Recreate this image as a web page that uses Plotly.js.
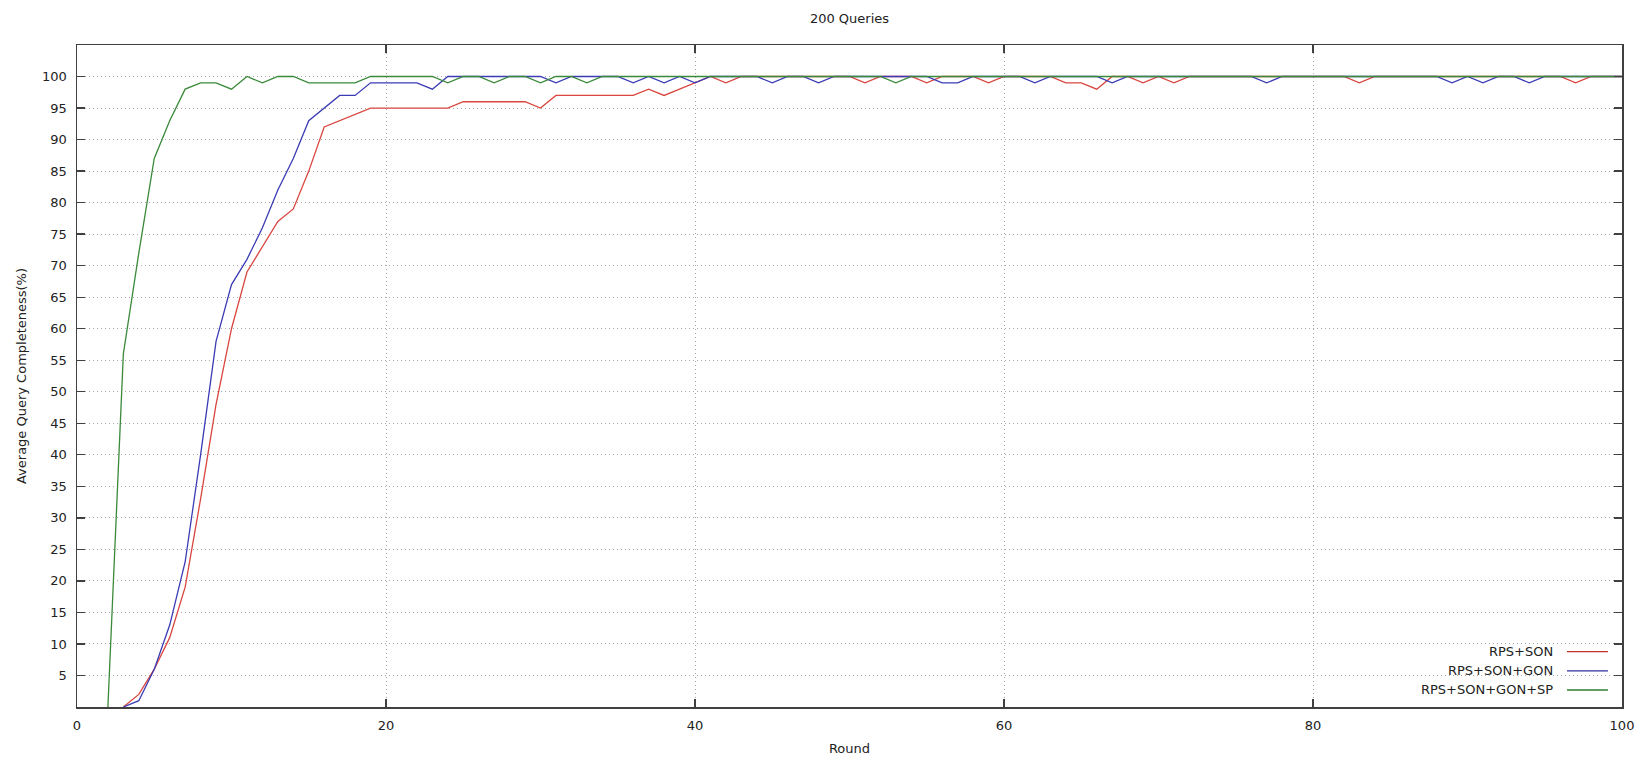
<!DOCTYPE html>
<html>
<head>
<meta charset="utf-8">
<script src="https://cdn.plot.ly/plotly-3.0.1.min.js"></script>
<style>
  html, body { margin: 0; padding: 0; background: #ffffff; }
  #chart { width: 1644px; height: 768px; }
</style>
</head>
<body>
<div id="chart"></div>
<script>
// ---- data ----
const chartTitle = "200 Queries";
const xTitle = "Round";
const yTitle = "Average Query Completeness(%)";

const rounds = [
  1, 2, 3, 4, 5, 6, 7, 8, 9, 10,
  11, 12, 13, 14, 15, 16, 17, 18, 19, 20,
  21, 22, 23, 24, 25, 26, 27, 28, 29, 30,
  31, 32, 33, 34, 35, 36, 37, 38, 39, 40,
  41, 42, 43, 44, 45, 46, 47, 48, 49, 50,
  51, 52, 53, 54, 55, 56, 57, 58, 59, 60,
  61, 62, 63, 64, 65, 66, 67, 68, 69, 70,
  71, 72, 73, 74, 75, 76, 77, 78, 79, 80,
  81, 82, 83, 84, 85, 86, 87, 88, 89, 90,
  91, 92, 93, 94, 95, 96, 97, 98, 99, 100
];

const rpsSon = [
  null, null, 0, 2, 6, 11, 19, 33, 48, 60,
  69, 73, 77, 79, 85, 92, 93, 94, 95, 95,
  95, 95, 95, 95, 96, 96, 96, 96, 96, 95,
  97, 97, 97, 97, 97, 97, 98, 97, 98, 99,
  100, 99, 100, 100, 100, 100, 100, 100, 100, 100,
  99, 100, 100, 100, 99, 100, 100, 100, 99, 100,
  100, 100, 100, 99, 99, 98, 100, 100, 99, 100,
  99, 100, 100, 100, 100, 100, 100, 100, 100, 100,
  100, 100, 99, 100, 100, 100, 100, 100, 100, 100,
  100, 100, 100, 100, 100, 100, 99, 100, 100, 100
];

const rpsSonGon = [
  null, null, 0, 1, 6, 13, 23, 40, 58, 67,
  71, 76, 82, 87, 93, 95, 97, 97, 99, 99,
  99, 99, 98, 100, 100, 100, 100, 100, 100, 100,
  99, 100, 100, 100, 100, 99, 100, 99, 100, 99,
  100, 100, 100, 100, 99, 100, 100, 99, 100, 100,
  100, 100, 100, 100, 100, 99, 99, 100, 100, 100,
  100, 99, 100, 100, 100, 100, 99, 100, 100, 100,
  100, 100, 100, 100, 100, 100, 99, 100, 100, 100,
  100, 100, 100, 100, 100, 100, 100, 100, 99, 100,
  99, 100, 100, 99, 100, 100, 100, 100, 100, 100
];

const rpsSonGonSp = [
  null, 0, 56, 72, 87, 93, 98, 99, 99, 98,
  100, 99, 100, 100, 99, 99, 99, 99, 100, 100,
  100, 100, 100, 99, 100, 100, 99, 100, 100, 99,
  100, 100, 99, 100, 100, 100, 100, 100, 100, 100,
  100, 100, 100, 100, 100, 100, 100, 100, 100, 100,
  100, 100, 99, 100, 100, 100, 100, 100, 100, 100,
  100, 100, 100, 100, 100, 100, 100, 100, 100, 100,
  100, 100, 100, 100, 100, 100, 100, 100, 100, 100,
  100, 100, 100, 100, 100, 100, 100, 100, 100, 100,
  100, 100, 100, 100, 100, 100, 100, 100, 100, 100
];

const seriesNames = ["RPS+SON", "RPS+SON+GON", "RPS+SON+GON+SP"];
const xTicks = [0, 20, 40, 60, 80, 100];
const yTicks = [5, 10, 15, 20, 25, 30, 35, 40, 45, 50, 55, 60, 65, 70, 75, 80, 85, 90, 95, 100];

// ---- styling ----
const FONT = "DejaVu Sans, Verdana, sans-serif";
const TEXT = "#222222";
const AXIS = "#404040";
const colors = ["#d9463f", "#3b3bb5", "#3a8a3a"];
const legendColors = ["#c0302a", "#2e2e9e", "#2f7d2f"];
const seriesValues = [rpsSon, rpsSonGon, rpsSonGonSp];

const traces = seriesValues.map((vals, i) => ({
  type: "scatter",
  mode: "lines",
  x: rounds,
  y: vals,
  name: seriesNames[i],
  line: { color: colors[i], width: 1.3 },
  connectgaps: false,
  showlegend: false,
  hoverinfo: "skip"
}));

// gnuplot-style key: right-aligned text with line sample on the right
const keyTop = 0.0835, keyStep = 0.0289;
const annotations = seriesNames.map((n, i) => ({
  xref: "paper", yref: "paper",
  x: 0.9566, y: keyTop - i * keyStep,
  xanchor: "right", yanchor: "middle",
  text: n, showarrow: false,
  font: { family: FONT, size: 13, color: TEXT }
}));
const shapes = seriesNames.map((n, i) => ({
  type: "line", xref: "paper", yref: "paper",
  x0: 0.9644, x1: 0.9909,
  y0: keyTop - i * keyStep, y1: keyTop - i * keyStep,
  line: { color: legendColors[i], width: 1.3 }
}));

const axisCommon = {
  showline: true, linecolor: AXIS, linewidth: 1.5,
  mirror: "ticks",
  ticks: "inside", ticklen: 8, tickwidth: 1.3, tickcolor: AXIS,
  showgrid: true, gridcolor: "#a8a8a8", gridwidth: 1, griddash: "1px,3px",
  zeroline: false,
  tickfont: { family: FONT, size: 13, color: TEXT },
  layer: "above traces",
  automargin: false
};

const layout = {
  width: 1644, height: 768,
  paper_bgcolor: "#ffffff", plot_bgcolor: "#ffffff",
  margin: { l: 77, r: 22, t: 45, b: 61, pad: 0 },
  font: { family: FONT, size: 13, color: TEXT },
  title: {
    text: chartTitle,
    font: { family: FONT, size: 13, color: TEXT },
    xref: "paper", x: 0.5, xanchor: "center",
    yref: "container", y: 1 - 18 / 768, yanchor: "middle"
  },
  xaxis: Object.assign({}, axisCommon, {
    range: [0, 100],
    tickmode: "array", tickvals: xTicks, ticktext: xTicks.map(String),
    ticklabelstandoff: 6,
    title: { text: xTitle, font: { family: FONT, size: 13, color: TEXT }, standoff: 12 }
  }),
  yaxis: Object.assign({}, axisCommon, {
    range: [0, 105],
    tickmode: "array", tickvals: yTicks, ticktext: yTicks.map(String),
    ticklabelstandoff: 6,
    title: { text: yTitle, font: { family: FONT, size: 13, color: TEXT }, standoff: 12 }
  }),
  annotations: annotations,
  shapes: shapes,
  showlegend: false
};

Plotly.newPlot("chart", traces, layout, { displayModeBar: false, staticPlot: true });
</script>
</body>
</html>
